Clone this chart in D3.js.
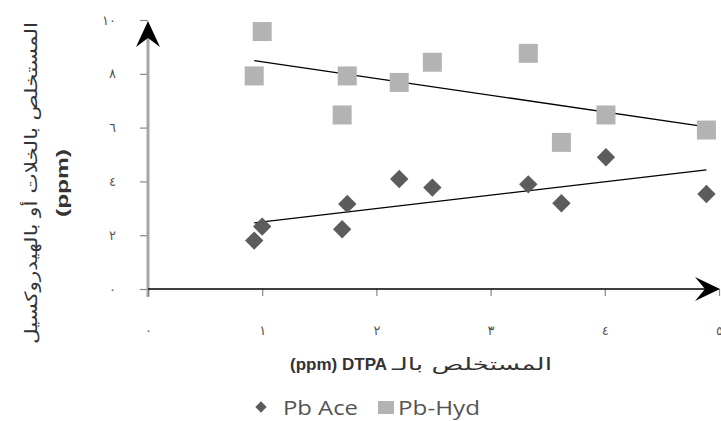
<!DOCTYPE html>
<html>
<head>
<meta charset="utf-8">
<script src="https://cdnjs.cloudflare.com/ajax/libs/d3/7.8.5/d3.min.js"></script>
<style>
  body { margin: 0; background: #fff; }
  svg { display: block; }
</style>
</head>
<body>
<svg id="chart" width="721" height="421"></svg>
<script>
// DTPA extracted Pb (shared sample x values)
var dtpa   = [0.93, 1.0, 1.70, 1.745, 2.20, 2.49, 3.33, 3.62, 4.01, 4.89];
// acetate extracted Pb
var pbAce  = [1.80, 2.32, 2.22, 3.16, 4.09, 3.77, 3.89, 3.19, 4.90, 3.53];
// hydroxide extracted Pb
var pbHyd  = [7.92, 9.57, 6.47, 7.92, 7.68, 8.43, 8.76, 5.45, 6.47, 5.91];

var xTicks = [0, 1, 2, 3, 4, 5];
var yTicks = [0, 2, 4, 6, 8, 10];
var seriesNames = ["Pb Ace", "Pb-Hyd"];

var svg = d3.select("#chart");

// set the ranges
var x = d3.scaleLinear().domain([0, 5]).range([148, 719]);
var y = d3.scaleLinear().domain([0, 10]).range([289, 20]);

// arabic-indic digits for tick labels
function arDigits(n) {
  return String(n).replace(/[0-9]/g, function(c) { return String.fromCharCode(0x0660 + (+c)); });
}

// least squares line over the points
function fit(xs, ys) {
  var mx = d3.mean(xs), my = d3.mean(ys), sxy = 0, sxx = 0;
  xs.forEach(function(v, i) { sxy += (v - mx) * (ys[i] - my); sxx += (v - mx) * (v - mx); });
  var b = sxy / sxx, a = my - b * mx;
  var x0 = d3.min(xs), x1 = d3.max(xs);
  return [[x0, a + b * x0], [x1, a + b * x1]];
}

// Y axis (grey bar + ticks)
var yAxis = svg.append("g").attr("transform", "translate(" + x(0) + ",0)")
    .call(d3.axisLeft(y).tickValues(yTicks).tickSize(8).tickPadding(24).tickFormat(arDigits));
yAxis.select(".domain").remove();
yAxis.selectAll(".tick line").attr("stroke", "#888").attr("stroke-width", 1.2);
yAxis.selectAll(".tick text").attr("fill", "#555").style("font-family", "DejaVu Sans").style("font-size", "13px");
svg.append("line")
    .attr("x1", x(0)).attr("x2", x(0)).attr("y1", y(10) + 6).attr("y2", y(0) + 8)
    .attr("stroke", "#a6a6a6").attr("stroke-width", 3);

// X axis
var xAxis = svg.append("g").attr("transform", "translate(0," + y(0) + ")")
    .call(d3.axisBottom(x).tickValues(xTicks).tickSize(7).tickPadding(30).tickFormat(arDigits));
xAxis.select(".domain").remove();
xAxis.selectAll(".tick line").attr("stroke", "#888").attr("stroke-width", 1.2);
xAxis.selectAll(".tick text").attr("fill", "#555").style("font-family", "DejaVu Sans").style("font-size", "13px");
svg.append("line")
    .attr("x1", x(0)).attr("x2", x(5) - 10).attr("y1", y(0)).attr("y2", y(0))
    .attr("stroke", "#000").attr("stroke-width", 1.5);

// arrow heads
var xa = x(0), ya = y(10), xe = x(5) + 1, ye = y(0);
svg.append("path")
    .attr("d", "M" + xa + "," + (ya + 1) + " L" + (xa + 12) + "," + (ya + 27) +
               " L" + xa + "," + (ya + 18) + " L" + (xa - 12) + "," + (ya + 27) + "Z")
    .attr("fill", "#000");
svg.append("path")
    .attr("d", "M" + xe + "," + ye + " L" + (xe - 25) + "," + (ye - 12) +
               " L" + (xe - 15) + "," + ye + " L" + (xe - 25) + "," + (ye + 12) + "Z")
    .attr("fill", "#000");

// trend lines
var line = d3.line().x(function(d) { return x(d[0]); }).y(function(d) { return y(d[1]); });
[pbHyd, pbAce].forEach(function(s) {
  svg.append("path").datum(fit(dtpa, s)).attr("d", line)
     .attr("fill", "none").attr("stroke", "#000").attr("stroke-width", 1.3);
});

// Pb-Hyd squares
svg.append("g").selectAll("path")
  .data(pbHyd).enter().append("path")
    .attr("transform", function(d, i) { return "translate(" + x(dtpa[i]) + "," + y(d) + ")"; })
    .attr("d", d3.symbol().type(d3.symbolSquare).size(361))
    .attr("fill", "#b3b3b3");

// Pb Ace diamonds
svg.append("g").selectAll("path")
  .data(pbAce).enter().append("path")
    .attr("transform", function(d, i) { return "translate(" + x(dtpa[i]) + "," + y(d) + ") rotate(45)"; })
    .attr("d", d3.symbol().type(d3.symbolSquare).size(169))
    .attr("fill", "#5c5c5c");

// axis titles
var yt = svg.append("g").attr("transform", "translate(27,183) rotate(-90)");
yt.append("text")
    .attr("y", 10)
    .attr("text-anchor", "middle")
    .attr("direction", "rtl")
    .attr("textLength", 322).attr("lengthAdjust", "spacingAndGlyphs")
    .style("font-family", "DejaVu Sans").style("font-size", "17px").attr("fill", "#333")
    .text("المستخلص بالخلات أو بالهيدروكسيل");
yt.append("text")
    .attr("y", 41)
    .attr("text-anchor", "middle")
    .attr("textLength", 68).attr("lengthAdjust", "spacingAndGlyphs")
    .style("font-family", "Liberation Sans").style("font-size", "16px").style("font-weight", "bold").attr("fill", "#333")
    .text("(ppm)");

svg.append("text")
    .attr("x", 387).attr("y", 370)
    .attr("text-anchor", "end")
    .style("font-family", "Liberation Sans").style("font-size", "17px").style("font-weight", "bold").attr("fill", "#333")
    .text("(ppm) DTPA");
svg.append("text")
    .attr("x", 392).attr("y", 370)
    .attr("textLength", 160).attr("lengthAdjust", "spacingAndGlyphs")
    .attr("direction", "rtl").attr("text-anchor", "end")
    .style("font-family", "DejaVu Sans").style("font-size", "17px").attr("fill", "#333")
    .text("المستخلص بالـ");

// legend
var leg = svg.append("g");
leg.append("path")
    .attr("transform", "translate(261,407) rotate(45)")
    .attr("d", d3.symbol().type(d3.symbolSquare).size(64))
    .attr("fill", "#5c5c5c");
leg.append("rect").attr("x", 378).attr("y", 401).attr("width", 16).attr("height", 13).attr("fill", "#b3b3b3");
leg.selectAll("text.l").data(seriesNames).enter().append("text")
    .attr("class", "l")
    .attr("x", function(d, i) { return i === 0 ? 283 : 398; })
    .attr("y", 415)
    .attr("textLength", function(d, i) { return i === 0 ? 75 : 82; })
    .attr("lengthAdjust", "spacingAndGlyphs")
    .style("font-family", "Open Sans").style("font-size", "20px").attr("fill", "#555")
    .text(function(d) { return d; });
</script>
</body>
</html>
